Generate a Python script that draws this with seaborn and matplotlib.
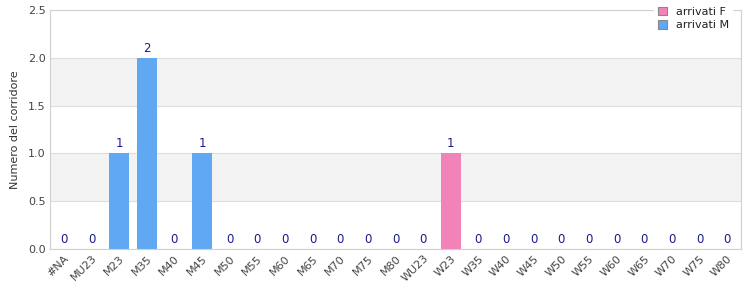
import matplotlib
matplotlib.use("Agg")
import matplotlib.pyplot as plt
from matplotlib.patches import Patch
import seaborn as sns
import pandas as pd

categories = ["#NA", "MU23", "M23", "M35", "M40", "M45", "M50", "M55", "M60", "M65",
              "M70", "M75", "M80", "WU23", "W23", "W35", "W40", "W45", "W50", "W55",
              "W60", "W65", "W70", "W75", "W80"]
arrivati_F = [0, 0, 0, 0, 0, 0, 0, 0, 0, 0, 0, 0, 0, 0, 1, 0, 0, 0, 0, 0, 0, 0, 0, 0, 0]
arrivati_M = [0, 0, 1, 2, 0, 1, 0, 0, 0, 0, 0, 0, 0, 0, 0, 0, 0, 0, 0, 0, 0, 0, 0, 0, 0]
series_names = ["arrivati F", "arrivati M"]
colors = {"arrivati F": "#f283b8", "arrivati M": "#60a8f2"}

df = pd.DataFrame({
    "cat": categories * 2,
    "serie": ["arrivati F"] * len(categories) + ["arrivati M"] * len(categories),
    "val": arrivati_F + arrivati_M,
})

sns.set_style("white")
plt.rcParams["font.family"] = ["DejaVu Sans"]

fig = plt.figure(figsize=(7.5, 3), dpi=100)
ax = fig.add_axes([0.0667, 0.17, 0.9213, 0.797])

for lo, hi in [(0.5, 1.0), (1.5, 2.0)]:
    ax.axhspan(lo, hi, color="#f3f3f3", zorder=0, lw=0)

sns.barplot(data=df, x="cat", y="val", hue="serie", hue_order=series_names,
            order=categories, palette=colors, dodge=False, width=0.72,
            ax=ax, legend=False, zorder=2, saturation=1, linewidth=0,
            edgecolor="none")

totals = [f + m for f, m in zip(arrivati_F, arrivati_M)]
for i, t in enumerate(totals):
    ax.text(i, t + 0.03, f"{t:g}", ha="center", va="bottom", fontsize=8.5,
            color="#1a1a8a", zorder=3)

ax.set_ylim(0, 2.5)
ax.set_xlim(-0.5, len(categories) - 0.5)
ax.set_yticks([0, 0.5, 1.0, 1.5, 2.0, 2.5])
ax.set_yticklabels(["0.0", "0.5", "1.0", "1.5", "2.0", "2.5"])
ax.yaxis.grid(True, color="#dddddd", lw=0.8, zorder=1)
ax.set_axisbelow(True)
for s in ax.spines.values():
    s.set_color("#d0d0d0")
    s.set_linewidth(0.8)
ax.tick_params(axis="both", length=0, labelsize=8, labelcolor="#444444", pad=3)
plt.setp(ax.get_xticklabels(), rotation=45, ha="right", rotation_mode="anchor")
ax.set_xlabel("")
ax.set_ylabel("Numero del corridore", fontsize=8, color="#333333", labelpad=6)

handles = [Patch(facecolor=colors[n], edgecolor="#888888", lw=0.8, label=n) for n in series_names]
leg = ax.legend(handles=handles, loc="upper right", bbox_to_anchor=(0.995, 1.05),
                fontsize=8, frameon=True, fancybox=False, handlelength=0.8,
                handleheight=0.8, handletextpad=0.8, borderpad=0.3,
                labelspacing=0.3, framealpha=1)
leg.get_frame().set_facecolor("white")
leg.get_frame().set_edgecolor("white")
for t in leg.get_texts():
    t.set_color("#222222")

fig.savefig("out.png", dpi=100)
